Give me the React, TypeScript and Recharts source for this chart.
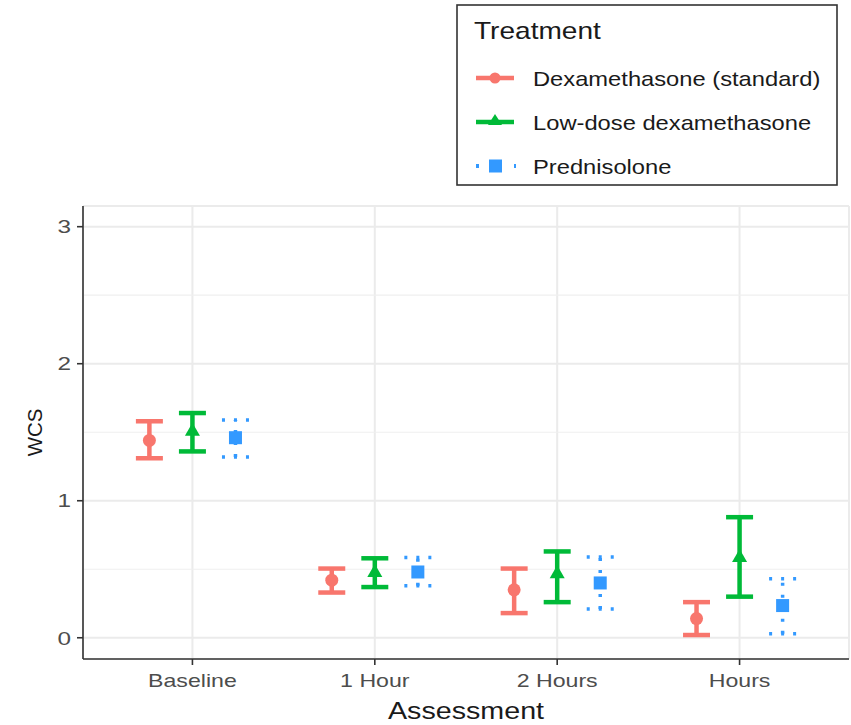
import React from "react";
import {
  ScatterChart,
  Scatter,
  ErrorBar,
  XAxis,
  YAxis,
  CartesianGrid,
  ReferenceLine,
  Label,
} from "recharts";

const categories = ["Baseline", "1 Hour", "2 Hours", "Hours"];
const treatments = [
  "Dexamethasone (standard)",
  "Low-dose dexamethasone",
  "Prednisolone",
];

const dexMean = [1.44, 0.42, 0.35, 0.14];
const dexLow = [1.31, 0.33, 0.18, 0.02];
const dexHigh = [1.58, 0.505, 0.505, 0.26];

const lowDoseMean = [1.51, 0.48, 0.47, 0.59];
const lowDoseLow = [1.36, 0.37, 0.26, 0.3];
const lowDoseHigh = [1.64, 0.58, 0.63, 0.88];

const predMean = [1.46, 0.48, 0.4, 0.235];
const predLow = [1.32, 0.38, 0.21, 0.03];
const predHigh = [1.59, 0.585, 0.59, 0.43];

const yTicks = [0, 1, 2, 3];
const yMinor = [0.5, 1.5, 2.5];
const xTicks = [0, 1, 2, 3];

const COLORS = ["#F8766D", "#00BA38", "#3399FF"];
const DODGE = [-0.236, 0, 0.236];
const FONT = "'Liberation Sans', Arial, sans-serif";

function buildSeries(mean: number[], low: number[], high: number[], k: number) {
  return mean.map((m, i) => ({
    x: i + DODGE[k],
    y: m,
    err: [m - low[i], high[i] - m],
  }));
}

const series = [
  buildSeries(dexMean, dexLow, dexHigh, 0),
  buildSeries(lowDoseMean, lowDoseLow, lowDoseHigh, 1),
  buildSeries(predMean, predLow, predHigh, 2),
];

const CircleShape = (p: any) => (
  <circle cx={p.cx} cy={p.cy} r={6.5} fill={COLORS[0]} />
);
const TriangleShape = (p: any) => (
  <polygon
    points={`${p.cx},${p.cy - 8} ${p.cx - 7.5},${p.cy + 5} ${p.cx + 7.5},${p.cy + 5}`}
    fill={COLORS[1]}
  />
);
const SquareShape = (p: any) => (
  <rect x={p.cx - 6.5} y={p.cy - 6.5} width={13} height={13} fill={COLORS[2]} />
);
const shapes = [CircleShape, TriangleShape, SquareShape];

const XTick = (props: any) => {
  const { x, y, payload } = props;
  return (
    <text
      transform={`translate(${x},${y}) scale(1.25,1)`}
      textAnchor="middle"
      dy="0.71em"
      fill="#4D4D4D"
      fontSize={18.5}
      fontFamily={FONT}
    >
      {categories[payload.value]}
    </text>
  );
};

const YTick = (props: any) => {
  const { x, y, payload } = props;
  return (
    <text
      transform={`translate(${x},${y}) scale(1.28,1)`}
      textAnchor="end"
      dy="0.355em"
      fill="#4D4D4D"
      fontSize={19}
      fontFamily={FONT}
    >
      {payload.value}
    </text>
  );
};

function LegendKey({ k, y }: { k: number; y: number }) {
  const c = COLORS[k];
  return (
    <g>
      {k === 2 ? (
        <line x1={20} y1={y} x2={60} y2={y} stroke={c} strokeWidth={4} strokeDasharray="3 16" />
      ) : (
        <line x1={20} y1={y} x2={58} y2={y} stroke={c} strokeWidth={4.5} />
      )}
      {k === 0 && <circle cx={39} cy={y} r={5.5} fill={c} />}
      {k === 1 && (
        <polygon points={`39,${y - 8} 32,${y + 3} 46,${y + 3}`} fill={c} />
      )}
      {k === 2 && <rect x={33} y={y - 6.5} width={13} height={13} fill={c} />}
    </g>
  );
}

function TreatmentLegend() {
  const rows = [78, 122, 166];
  return (
    <svg
      width={382}
      height={182}
      style={{ position: "absolute", left: 456, top: 4 }}
    >
      <rect x={1} y={1} width={380} height={180} fill="#fff" stroke="#333" strokeWidth={1.6} />
      <text
        transform="translate(18,35) scale(1.17,1)"
        fontSize={24}
        fontFamily={FONT}
        fill="#1a1a1a"
      >
        Treatment
      </text>
      {treatments.map((t, k) => (
        <g key={t}>
          <LegendKey k={k} y={rows[k] - 4} />
          <text
            transform={`translate(77,${rows[k] + 3.5}) scale(1.13,1)`}
            fontSize={21}
            fontFamily={FONT}
            fill="#1a1a1a"
          >
            {t}
          </text>
        </g>
      ))}
    </svg>
  );
}

export default function App() {
  return (
    <div
      style={{
        position: "absolute",
        left: 0,
        top: 0,
        width: 851,
        height: 725,
        background: "#fff",
      }}
    >
      <ScatterChart
        width={851}
        height={725}
        margin={{ top: 206, right: 2, bottom: 0, left: 0 }}
      >
        <CartesianGrid stroke="#EBEBEB" strokeWidth={2} />
        {yMinor.map((v) => (
          <ReferenceLine key={v} y={v} stroke="#EFEFEF" strokeWidth={1.2} />
        ))}
        <XAxis
          type="number"
          dataKey="x"
          domain={[-0.6, 3.6]}
          ticks={xTicks}
          allowDataOverflow
          height={66}
          tickSize={6}
          tickMargin={9}
          axisLine={{ stroke: "#333", strokeWidth: 1.6 }}
          tickLine={{ stroke: "#333", strokeWidth: 1.6 }}
          tick={<XTick />}
          interval={0}
        >
          <Label
            content={({ viewBox }: any) => (
              <text
                transform={`translate(${viewBox.x + viewBox.width / 2},719) scale(1.22,1)`}
                textAnchor="middle"
                fontSize={23.5}
                fontFamily={FONT}
                fill="#1a1a1a"
              >
                Assessment
              </text>
            )}
          />
        </XAxis>
        <YAxis
          type="number"
          dataKey="y"
          domain={[-0.155, 3.151]}
          ticks={yTicks}
          allowDataOverflow
          width={83}
          tickSize={6}
          tickMargin={6}
          axisLine={{ stroke: "#333", strokeWidth: 1.6 }}
          tickLine={{ stroke: "#333", strokeWidth: 1.6 }}
          tick={<YTick />}
          interval={0}
        >
          <Label
            content={({ viewBox }: any) => (
              <text
                transform={`translate(42,${viewBox.y + viewBox.height / 2}) rotate(-90) scale(1.05,1)`}
                textAnchor="middle"
                fontSize={19.5}
                fontFamily={FONT}
                fill="#1a1a1a"
              >
                WCS
              </text>
            )}
          />
        </YAxis>
        {series.map((data, k) => (
          <Scatter
            key={treatments[k]}
            name={treatments[k]}
            data={data}
            fill={COLORS[k]}
            shape={shapes[k]}
            isAnimationActive={false}
          >
            <ErrorBar
              dataKey="err"
              direction="y"
              width={13.5}
              stroke={COLORS[k]}
              strokeWidth={k === 2 ? 3.5 : 4.5}
              strokeDasharray={k === 2 ? "3 9" : undefined}
              isAnimationActive={false}
            />
          </Scatter>
        ))}
      </ScatterChart>
      <TreatmentLegend />
    </div>
  );
}
